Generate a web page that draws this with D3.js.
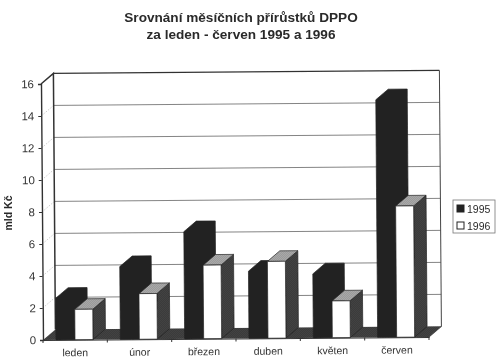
<!DOCTYPE html>
<html lang="cs">
<head>
<meta charset="UTF-8">
<script src="https://d3js.org/d3.v7.min.js"></script>
<title>Srovnání měsíčních přírůstků DPPO</title>
<style>
    html, body { margin: 0; background: #fff; }
    svg { display: block; font-family: "Liberation Sans", Arial, sans-serif; fill: #2a2a2a; }
    .title { font-size: 13.6px; font-weight: bold; text-anchor: middle; }
    .axis text { font-size: 11.5px; fill: #333; }
    .axis path, .axis line { stroke: #333; }
</style>
</head>
<body>
<svg id="chart" width="500" height="364"></svg>
<script>
const months = ["leden", "únor", "březen", "duben", "květen", "červen"];
const series = ["1995", "1996"];
const values1995 = [2.6, 4.55, 6.7, 4.2, 4.0, 14.85];
const values1996 = [1.9, 2.85, 4.6, 4.8, 2.3, 8.2];
const yTicks = [0, 2, 4, 6, 8, 10, 12, 14, 16];

const svg = d3.select("#chart");
const defs = svg.append("defs");

function dither(id, bg, dot) {
    const p = defs.append("pattern").attr("id", id).attr("width", 2).attr("height", 2)
        .attr("patternUnits", "userSpaceOnUse").attr("patternTransform", "rotate(0.45)");
    p.append("rect").attr("width", 2).attr("height", 2).attr("fill", bg);
    p.append("rect").attr("width", 1).attr("height", 1).attr("fill", dot);
    p.append("rect").attr("x", 1).attr("y", 1).attr("width", 1).attr("height", 1).attr("fill", dot);
}
dither("darkDots", "#666", "#161616");
dither("lightDots", "#ddd", "#666");

// slight blur, the original is a scan
defs.append("filter").attr("id", "scan")
    .append("feGaussianBlur").attr("stdDeviation", 0.35);

const root = svg.append("g").attr("filter", "url(#scan)");

root.selectAll(".title").data(["Srovnání měsíčních přírůstků DPPO", "za leden - červen 1995 a 1996"])
    .enter().append("text").attr("class", "title")
    .attr("x", 241).attr("y", (d, i) => 22 + i * 17).text(d => d);

root.append("text").attr("transform", "translate(12,213) rotate(-90)")
    .attr("text-anchor", "middle").attr("font-size", 10.5).attr("font-weight", "bold")
    .text("mld Kč");

// the whole plot is a little crooked in the scan
const g = root.append("g").attr("transform", "rotate(-0.45 43 340)");

const x = d3.scaleBand().domain(months).range([43, 429]);
const y = d3.scaleLinear().domain([0, 16]).range([340, 84]);
const xSeries = d3.scaleBand().domain(series).range([13, 51]);
const depthX = 12.5, depthY = -10.5;

const poly = pts => pts.map(p => p.join(",")).join(" ");
const x0 = x.range()[0], x1 = x.range()[1];

// floor
g.append("polygon")
    .attr("points", poly([[x0, y(0)], [x1, y(0)], [x1 + depthX, y(0) + depthY], [x0 + depthX, y(0) + depthY]]))
    .attr("fill", "url(#darkDots)");

// gridlines on side and back wall
yTicks.filter(d => d > 0).forEach(d => {
    g.append("line").attr("x1", x0).attr("y1", y(d)).attr("x2", x0 + depthX).attr("y2", y(d) + depthY)
        .attr("stroke", "#aaa").attr("stroke-width", 0.6).attr("stroke-dasharray", "1.5 1.5");
    g.append("line").attr("x1", x0 + depthX).attr("y1", y(d) + depthY).attr("x2", x1 + depthX).attr("y2", y(d) + depthY)
        .attr("stroke", d === 16 ? "#333" : "#777").attr("stroke-width", d === 16 ? 1.4 : 0.9);
});

// wall edges
g.append("path")
    .attr("d", `M${x0},${y(16)}L${x0 + depthX},${y(16) + depthY}V${y(0) + depthY}`)
    .attr("fill", "none").attr("stroke", "#333").attr("stroke-width", 1.5);
g.append("path")
    .attr("d", `M${x1 + depthX},${y(16) + depthY}V${y(0) + depthY}L${x1},${y(0)}`)
    .attr("fill", "none").attr("stroke", "#444").attr("stroke-width", 1);

// dark bars are one flat silhouette, no visible faces
function darkBar(sel, bx, w, v) {
    const t = y(v), b = y(0);
    sel.append("polygon").attr("points", poly([
        [bx, b], [bx, t], [bx + depthX, t + depthY], [bx + w + depthX, t + depthY],
        [bx + w + depthX, b + depthY], [bx + w, b]]))
        .attr("fill", "#232323").attr("stroke", "#232323").attr("stroke-width", 0.7);
}

function whiteBar(sel, bx, w, v) {
    const t = y(v), b = y(0);
    sel.append("polygon").attr("points", poly([[bx + w, b], [bx + w + depthX, b + depthY], [bx + w + depthX, t + depthY], [bx + w, t]]))
        .attr("fill", "url(#darkDots)").attr("stroke", "#222").attr("stroke-width", 0.7);
    sel.append("polygon").attr("points", poly([[bx, t], [bx + depthX, t + depthY], [bx + w + depthX, t + depthY], [bx + w, t]]))
        .attr("fill", "url(#lightDots)").attr("stroke", "#222").attr("stroke-width", 0.7);
    sel.append("rect").attr("x", bx).attr("y", t).attr("width", w).attr("height", b - t)
        .attr("fill", "#fff").attr("stroke", "#222").attr("stroke-width", 0.7);
}

months.forEach((m, i) => {
    const cell = g.append("g");
    darkBar(cell, x(m) + xSeries("1995"), xSeries.bandwidth(), values1995[i]);
    whiteBar(cell, x(m) + xSeries("1996"), xSeries.bandwidth() - 1, values1996[i]);
});

// axes
const yAxis = g.append("g").attr("class", "axis").attr("transform", `translate(${x0},0)`)
    .call(d3.axisLeft(y).tickValues(yTicks).tickSize(3).tickPadding(4));
yAxis.select(".domain").attr("stroke-width", 1.4);

const xAxis = g.append("g").attr("class", "axis").attr("transform", `translate(0,${y(0)})`)
    .call(d3.axisBottom(x).tickSizeOuter(0).tickSize(0).tickPadding(9));
xAxis.selectAll("text").style("font-size", "10.5px");
x.domain().forEach(m => {
    xAxis.append("line").attr("x1", x(m) + x.step()).attr("x2", x(m) + x.step()).attr("y1", 0).attr("y2", 3);
});
xAxis.append("line").attr("x1", x0).attr("x2", x0).attr("y1", 0).attr("y2", 3);

// legend
const legend = root.append("g").attr("transform", "translate(453,200)");
legend.append("rect").attr("width", 42).attr("height", 33).attr("fill", "#fff")
    .attr("stroke", "#777").attr("stroke-width", 0.8);
series.forEach((s, i) => {
    legend.append("rect").attr("x", 4).attr("y", 5 + i * 17).attr("width", 7).attr("height", 7)
        .attr("fill", i ? "#fff" : "#232323").attr("stroke", "#222");
    legend.append("text").attr("x", 14).attr("y", 12.5 + i * 17).attr("font-size", 10.5).text(s);
});
</script>
</body>
</html>
